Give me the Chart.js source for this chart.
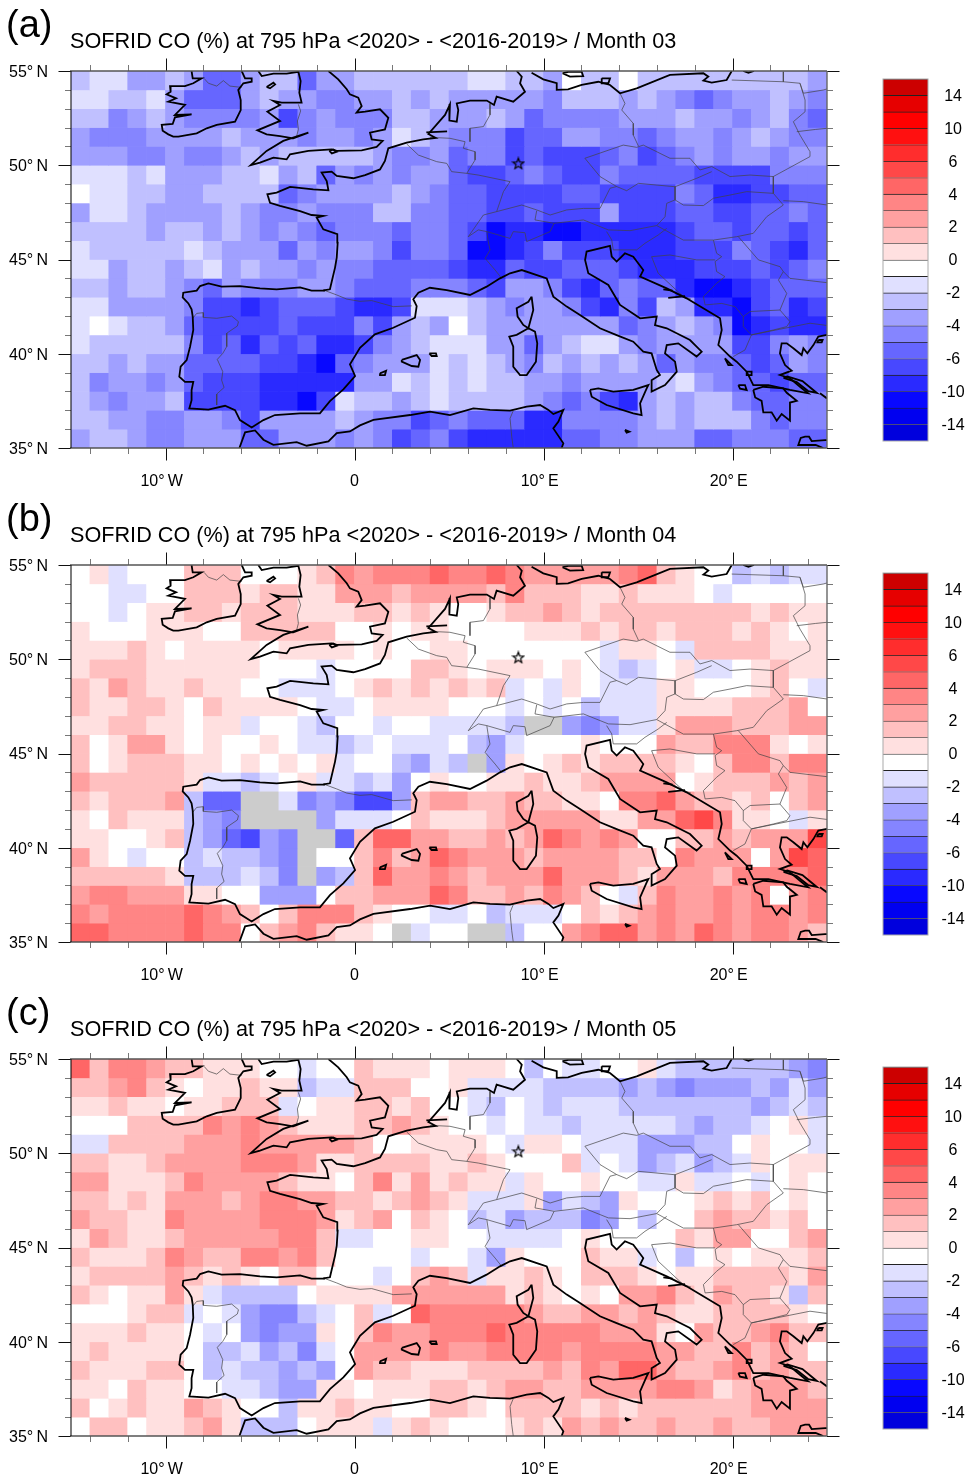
<!DOCTYPE html>
<html>
<head>
<meta charset="utf-8">
<title>SOFRID CO</title>
<script src="https://cdn.jsdelivr.net/npm/chart.js@4/dist/chart.umd.min.js"></script>
<style>
body { margin: 0; background: #fff; font-family: "Liberation Sans", Arial, sans-serif; color: #000; }
#page { position: relative; width: 975px; height: 1484px; overflow: hidden; }
canvas { position: absolute; }
.tag { position: absolute; left: 6px; font-size: 38px; line-height: 44px; }
.title { position: absolute; left: 70px; font-size: 21.65px; line-height: 26px; white-space: nowrap; }
</style>
</head>
<body>
<div id="page"></div>
<script>
// Grid cells, west edge of each column
const lons = [-15,-14,-13,-12,-11,-10,-9,-8,-7,-6,-5,-4,-3,-2,-1,0,1,2,3,4,5,6,7,8,9,10,11,12,13,14,15,16,17,18,19,20,21,22,23,24];
// South edge of each row, listed from the top of the map
const lats = [54,53,52,51,50,49,48,47,46,45,44,43,42,41,40,39,38,37,36,35];

// Axis ticks and labels
const lonTicks = [-10,0,10,20];
const lonLabels = ["10°\u2009W\u00a0\u2009","0","10°\u2009E\u00a0\u2009","20°\u2009E\u00a0\u2009"];
const latTicks = [35,40,45,50,55];
const latLabels = ["35°\u2009N","40°\u2009N","45°\u2009N","50°\u2009N","55°\u2009N"];
const lonMinor = [-14,-12,-8,-6,-4,-2,2,4,6,8,12,14,16,18,22,24];
const latMinor = [36,37,38,39,41,42,43,44,46,47,48,49,51,52,53,54];

// Colour classes, upper limit of each class; the last colour is for anything above 14
const levels = [-14,-12,-10,-8,-6,-5,-4,-3,-2,-1,0,1,2,3,4,5,6,8,10,12,14];
const colors = ["#0000dd","#0000f0","#0808ff","#2a2aff","#4848ff","#6666ff","#8585ff","#a0a0ff","#c0c0ff","#e0e0ff","#ffffff",
                "#ffe0e0","#ffc0c0","#ffa0a0","#ff8585","#ff6666","#ff4848","#ff2d2d","#ff1010","#ff0000","#e60000","#cc0000"];
const missingColor = "#cccccc";

// Month 03, percent difference per cell
const march = [
[-2,-1,-1,-3,-3,-2,-3,-5,-5,-3,-2,-2,-5,-3,-3,-2,-2,-2,-2,-2,-2,-1,-1,-2,-2,-3,0,-2,-2,0,-2,-2,-2,-2,-2,-2,-2,-2,-2,-3],
[-1,-1,-2,-2,-1,-3,-5,-5,-5,-3,-2,-3,-3,-4,-4,-3,-3,-2,-3,-2,-3,-3,-3,-3,-3,-4,-2,-2,-2,-3,-2,-3,-4,-5,-4,-3,-3,-2,-3,-4],
[-2,-2,-4,-3,-2,-3,-4,-4,-4,-4,-3,-7,-4,-3,-4,-4,-4,-2,-2,-3,-3,-3,-2,-3,-5,-4,-4,-4,-4,-3,-3,-3,-2,-3,-3,-4,-3,-2,-4,-5],
[-3,-4,-4,-4,-3,-3,-3,-3,-2,-3,-3,-3,-4,-3,-3,-4,-3,-1,-2,-3,-4,-4,-4,-7,-5,-5,-3,-3,-4,-4,-5,-4,-3,-3,-4,-3,-2,-3,-4,-4],
[-3,-3,-3,-4,-4,-3,-4,-4,-3,-2,-3,-2,-2,-2,-2,-2,-3,-4,-4,-3,-5,-4,-4,-7,-5,-7,-7,-7,-5,-4,-7,-5,-4,-3,-4,-3,-3,-4,-3,-3],
[-1,-1,-1,-2,-1,-3,-3,-3,-2,-2,-1,-3,-2,-5,-3,-4,-3,-4,-3,-3,-5,-7,-7,-5,-4,-5,-7,-7,-4,-5,-5,-5,-5,-7,-7,-7,-7,-4,-4,-4],
[0,-1,-1,-2,-2,-3,-3,-2,-2,-2,-2,-5,-4,-3,-3,-3,-3,-2,-3,-4,-5,-5,-7,-7,-7,-7,-5,-5,-7,-7,-7,-7,-4,-5,-9,-9,-7,-7,-5,-5],
[-3,-1,-1,-2,-3,-3,-3,-3,-2,-3,-4,-4,-3,-4,-4,-4,-2,-2,-4,-4,-5,-5,-7,-7,-5,-7,-7,-7,-3,-7,-7,-7,-5,-5,-7,-7,-5,-5,-4,-5],
[-2,-2,-2,-2,-3,-2,-2,-3,-2,-3,-4,-3,-4,-5,-4,-4,-4,-5,-4,-4,-5,-7,-11,-9,-9,-11,-11,-9,-9,-9,-9,-9,-7,-5,-5,-7,-5,-5,-7,-5],
[-1,-2,-2,-2,-2,-2,-1,-2,-3,-3,-3,-5,-3,-4,-3,-3,-4,-7,-4,-4,-5,-11,-11,-9,-7,-4,-7,-7,-7,-9,-9,-9,-7,-7,-7,-4,-5,-7,-9,-5],
[-1,-1,-3,-2,-2,-3,-2,-1,-3,-2,-3,-3,-4,-3,-4,-4,-5,-5,-5,-5,-7,-9,-9,-5,-7,-7,-5,-5,-5,-7,-9,-9,-9,-7,-7,-7,-5,-7,-5,-4],
[-2,-2,-3,-2,-2,-3,-4,-5,-3,-4,-4,-4,-3,-3,-4,-5,-5,-5,-4,-4,-4,-5,-7,-3,-3,-4,-7,-9,-5,-4,-5,-5,-9,-11,-11,-9,-7,-5,-5,-5],
[-1,-1,-3,-3,-3,-3,-4,-7,-7,-9,-7,-5,-5,-5,-7,-9,-9,-7,-1,-1,-1,-2,-3,-4,-3,-3,-4,-7,-9,-4,-7,-2,-3,-9,-9,-11,-7,-5,-9,-7],
[-1,0,-1,-2,-2,-3,-5,-7,-7,-7,-7,-5,-7,-7,-7,-4,-7,-3,-2,-3,0,-2,-3,-3,-3,-3,-3,-3,-3,-5,-4,-3,-2,-3,-4,-11,-9,-7,-9,-9],
[-1,-2,-2,-2,-2,-2,-4,-7,-5,-9,-5,-7,-5,-9,-9,-7,-4,-3,-2,-1,-1,-1,-3,-3,-5,-3,-2,-1,-1,-3,-4,-3,-3,-3,-3,-7,-7,-4,-3,-4],
[-2,-2,-3,-2,-3,-3,-5,-5,-5,-5,-7,-7,-9,-11,-5,-4,-3,-3,-3,-1,-2,-1,-2,-3,-4,-2,-3,-2,-3,-2,-3,-5,-3,-4,-4,-5,-7,-5,-3,-4],
[-2,-4,-3,-3,-4,-3,-5,-7,-7,-7,-9,-9,-9,-9,-9,-3,-3,-1,-2,-1,-2,-1,-2,-2,-3,-3,-4,-3,-3,-3,-3,-2,-1,-3,-4,-5,-5,-7,-5,-5],
[-2,-3,-4,-3,-3,-2,-7,-7,-7,-7,-9,-9,-11,-7,-1,-2,-2,-3,-2,-1,-2,-2,-2,-2,-3,-4,-5,-4,-7,-9,-3,-2,-3,-2,-2,-4,-5,-5,-4,-4],
[-2,-2,-3,-3,-4,-4,-3,-3,-4,-7,-3,-3,-3,-3,-2,-3,-4,-4,-7,-5,-4,-5,-5,-5,-9,-9,-4,-4,-4,-4,-3,-2,-3,-2,-2,-2,-4,-5,-4,-4],
[-3,-2,-2,-3,-4,-4,-3,-3,-3,-5,-5,-3,-3,-3,-4,-3,-4,-7,-5,-4,-7,-9,-9,-9,-9,-9,-5,-5,-4,-4,-3,-3,-3,-5,-5,-4,-4,-4,-5,-5]
];

// Month 04
const april = [
[0,1,-1,0,0,0,2,2,2,0,0,0,1,2,4,3,4,4,4,5,4,4,5,4,3,3,3,3,3,4,5,2,1,0,0,-2,-1,-2,-1,-1],
[0,0,-1,-1,0,0,2,2,2,1,2,2,1,1,3,3,3,2,3,3,3,3,2,4,2,2,2,1,1,2,1,1,1,0,-1,0,0,0,0,0],
[0,0,-1,0,1,1,2,2,1,2,2,2,1,1,1,2,2,1,2,1,0,0,1,2,2,3,2,1,2,2,2,2,2,2,2,2,1,2,1,1],
[1,0,0,0,1,1,1,0,0,2,2,2,2,2,0,0,1,0,1,1,0,0,0,0,1,1,1,2,1,2,2,1,2,2,2,1,2,1,0,1],
[1,1,1,2,1,0,1,1,1,1,0,1,1,1,1,0,1,0,0,1,1,0,0,0,0,0,0,0,-1,1,1,0,-1,2,2,2,2,1,1,1],
[1,2,2,2,1,1,1,1,1,1,0,0,0,-1,0,0,0,0,2,2,1,0,1,1,1,0,1,0,-1,-2,-1,0,1,-1,-1,0,1,2,1,1],
[2,1,3,2,1,1,2,1,1,0,0,-1,-1,-1,0,1,2,1,2,1,2,1,2,-1,0,-1,1,0,-1,-1,-1,1,1,0,0,0,1,2,0,-1],
[2,1,1,2,2,1,0,2,1,1,1,1,0,-1,-1,0,1,1,1,1,0,0,0,-1,0,-1,0,-2,-1,-1,-1,1,1,1,1,2,2,2,3,0],
[1,1,2,2,1,1,0,1,1,-1,0,0,-1,-2,0,0,-1,0,0,-1,-1,-1,-1,-2,null,null,-3,-4,-3,-1,-1,1,3,3,3,2,2,2,3,3],
[2,0,1,3,3,1,0,1,0,0,1,0,-1,-1,-2,-1,0,-1,-1,-1,0,-2,-3,-1,0,0,0,1,0,0,0,3,2,2,4,4,4,1,0,1],
[2,0,1,2,2,2,1,1,0,1,0,1,0,1,-1,0,0,-2,-3,-1,-2,null,-3,1,0,1,2,1,2,2,2,2,1,0,2,4,4,2,4,4],
[3,2,2,2,2,2,1,-1,-1,-2,-1,0,1,-1,-1,-2,-1,-3,0,1,0,0,1,1,2,1,1,2,3,3,3,3,0,1,2,2,2,3,2,3],
[2,1,2,2,2,3,-2,-5,-5,null,null,-1,-4,-3,-4,-7,-7,-3,2,3,3,2,2,3,2,2,1,1,0,4,4,5,3,2,2,1,2,0,2,3],
[1,0,2,1,1,1,-2,-3,-4,null,null,null,null,-3,-1,-1,-1,0,2,1,1,1,2,3,3,3,3,3,1,1,3,3,5,6,4,1,1,0,-1,1],
[1,1,0,0,1,2,-2,-3,-5,-7,-3,-4,null,null,-5,2,5,5,3,3,2,2,3,2,3,5,4,3,4,3,0,0,2,2,3,2,3,3,3,6],
[3,1,0,-1,0,0,-2,-1,-2,-2,-3,-4,null,0,0,2,4,2,3,5,4,3,3,3,2,3,3,3,3,2,2,0,4,3,3,3,0,3,6,5],
[2,2,2,2,2,1,-2,-2,-2,-1,-2,-4,null,-3,-2,2,5,3,3,4,3,2,3,3,3,5,3,3,3,2,1,3,3,3,2,4,4,4,4,5],
[3,4,4,3,3,3,1,1,0,0,-3,-3,-3,0,2,2,3,3,3,5,4,2,2,3,2,4,3,2,0,-1,2,4,3,3,4,3,4,0,3,4],
[4,3,4,4,4,4,5,4,3,2,0,2,4,4,4,2,1,0,0,-1,-1,0,-2,-1,-1,-1,0,2,1,2,3,4,3,3,4,3,4,4,3,4],
[5,5,4,4,4,4,5,4,4,0,2,3,4,2,1,1,0,null,-1,0,0,null,null,-2,0,0,3,4,5,5,3,4,3,5,4,3,4,4,3,2]
];

// Month 05
const may = [
[5,2,4,4,3,2,2,1,1,1,0,0,-1,0,0,2,1,1,1,0,1,1,1,0,-2,0,-1,-1,0,0,1,-1,-2,-2,-2,-2,-2,-2,-3,-4],
[2,2,3,4,2,1,0,1,1,2,1,1,-2,-1,-1,2,2,2,0,0,1,-1,-1,-1,-1,-2,-2,-2,-2,-3,-2,-3,-4,-3,-3,-3,-2,-3,-1,-3],
[1,1,2,1,1,0,1,1,2,2,2,-1,0,1,1,2,2,1,2,0,0,-1,-2,0,-1,-2,-1,-1,-1,-2,-2,-2,-2,-2,-2,-2,-3,-2,-1,-2],
[0,0,0,2,2,2,2,4,3,4,3,2,1,1,1,2,2,3,2,1,0,0,-1,0,-1,-1,-2,-1,-1,-1,-1,-1,-2,-3,-2,-2,-1,0,1,-1],
[-1,-1,2,2,2,2,3,3,3,4,3,3,3,3,3,2,0,0,1,1,1,1,0,-1,1,1,0,-1,-1,-1,-3,-3,-3,-2,-2,0,1,0,0,-1],
[2,2,1,1,2,3,3,3,3,4,4,4,3,1,1,2,2,2,2,1,1,2,1,0,0,0,2,-1,0,-1,-3,-2,-1,-3,-2,-1,1,0,1,1],
[3,3,1,1,1,2,4,3,3,3,3,2,1,1,0,2,4,1,3,1,2,1,1,-1,1,0,0,1,0,0,-1,-1,1,-1,-1,0,-1,0,1,0],
[2,2,1,2,1,3,3,3,2,3,4,4,3,3,2,2,1,2,3,2,1,-1,-1,-1,1,-3,-1,-2,-3,1,0,0,0,1,2,1,2,0,1,0],
[3,2,2,1,1,4,3,3,3,3,4,4,4,3,1,2,3,0,2,1,0,-2,-1,-3,-2,-2,-2,-4,-3,0,-2,0,0,2,3,2,2,1,2,0],
[1,3,2,1,1,2,3,3,3,3,3,4,4,2,-1,-1,0,0,1,1,0,0,-1,-1,-1,-1,0,1,0,0,0,0,2,1,3,3,0,0,2,3],
[2,1,1,1,2,4,3,2,2,4,4,3,4,2,0,0,0,0,-1,0,0,-1,-3,1,0,0,0,2,1,1,-1,0,-2,0,1,0,1,1,1,2],
[1,2,2,2,2,3,2,1,2,1,0,2,2,0,0,0,-1,0,2,3,2,-1,1,1,2,1,0,2,2,2,1,0,1,1,2,2,2,2,1,3],
[2,1,0,1,1,3,1,-1,-2,-2,-2,-2,0,1,1,1,1,3,3,3,3,3,3,1,2,1,0,1,0,3,3,4,2,1,3,2,2,1,-2,2],
[0,0,0,1,2,2,-1,0,-1,-3,-4,-4,-2,-1,0,2,-1,0,5,4,4,4,4,4,3,2,2,3,3,2,3,2,1,1,2,2,2,2,1,0],
[1,1,1,2,1,1,0,-1,0,-3,-4,-3,-3,1,0,2,4,3,3,4,4,4,5,4,4,4,4,4,3,3,3,1,0,3,2,2,3,4,2,2],
[1,2,1,1,1,1,0,-2,-2,-1,-3,-2,-4,-1,0,3,3,3,3,4,3,3,4,4,4,4,3,4,4,4,4,3,3,2,2,4,2,3,2,0],
[2,1,1,1,2,2,0,-2,-1,-2,-2,-3,-2,-3,0,3,2,2,1,1,1,2,2,2,2,3,2,4,3,5,5,3,2,2,3,4,2,3,2,2],
[1,1,0,2,1,1,0,0,-1,-1,-2,-3,-3,1,1,0,1,1,1,2,2,1,2,3,3,2,2,3,3,3,3,4,4,3,1,2,3,3,3,2],
[2,0,1,2,1,1,3,2,1,0,0,-2,1,1,2,1,1,0,0,2,2,1,0,2,2,2,2,1,2,1,2,2,2,2,2,2,3,3,3,3],
[0,2,2,0,1,1,2,3,1,-2,-2,-2,0,1,1,1,-1,1,2,1,0,0,0,1,2,1,3,2,3,2,2,3,2,2,3,2,2,3,3,3]
];

// Coastlines, [lon, lat]
const ireland = [[-8.62,55],[-8.56,54.61],[-8.09,54.61],[-8.53,54.35],[-8.97,54.2],[-9.76,54.2],[-9.73,53.9],[-9.94,53.76],[-9.44,53.55],[-9.85,53.37],[-8.97,53.2],[-9.5,52.67],[-8.62,52.7],[-9.5,52.54],[-9.62,52.19],[-10.2,52.14],[-10.15,51.83],[-9.85,51.64],[-9.59,51.52],[-9.32,51.52],[-8.35,51.69],[-7.82,51.96],[-7.29,52.14],[-6.32,52.31],[-6.02,52.93],[-6.02,53.46],[-6.15,53.99],[-5.88,54.35],[-5.44,54.43],[-5.44,54.61],[-5.79,54.61],[-5.97,55]];
const britain = [[-5.09,55],[-4.91,54.73],[-4.29,54.86],[-3.59,54.86],[-2.97,54.96],[-2.85,54.47],[-2.92,53.85],[-2.8,53.32],[-3.85,53.32],[-4.29,53.41],[-3.94,53.2],[-4.61,52.84],[-3.94,52.35],[-5.14,51.85],[-4.65,51.64],[-3.94,51.55],[-3.24,51.43],[-2.44,51.73],[-3.77,51.29],[-4.65,50.76],[-5.49,50.01],[-5,50.14],[-4.29,50.4],[-3.59,50.31],[-3.41,50.58],[-2.44,50.76],[-1.21,50.84],[-0.94,50.76],[0.38,50.79],[1.17,50.97],[1.49,51.29],[0.91,51.37],[0.82,51.73],[1.61,51.9],[1.79,52.52],[1.35,52.97],[0.56,52.84],[0.11,52.79],[0.38,53.14],[0.2,53.59],[-0.24,53.76],[-0.41,54.03],[-0.86,54.56],[-1.38,55]];
const isleOfMan = [[-4.65,54.15],[-4.29,54.38],[-4.2,54.29],[-4.47,54.08],[-4.65,54.15]];
const isleOfWight = [[-1.33,50.76],[-1.12,50.84],[-0.94,50.72],[-1.2,50.63],[-1.33,50.76]];
const franceAtlantic = [[-1.65,43.36],[-1.3,43.42],[-1.03,44.57],[-0.94,45.1],[-0.89,45.89],[-0.91,46.34],[-1.65,46.6],[-2,47.22],[-1.65,47.31],[-2.27,47.36],[-2.88,47.57],[-3.94,47.84],[-4.47,48.01],[-4.61,48.46],[-4.12,48.55],[-3.41,48.85],[-2.18,48.72],[-1.38,48.67],[-1.47,49.16],[-1.74,49.61],[-1.21,49.66],[-0.94,49.43],[-0.06,49.31],[0.56,49.48],[1.35,49.78],[1.61,50.23],[1.79,50.9],[2.76,51.2],[3.64,51.37],[4.3,51.45],[3.91,51.66],[4.79,52.67],[5.05,53.23],[5.02,52.37],[5.41,52.31],[5.49,52.93],[5.41,53.28],[6.11,53.43],[7,53.43],[7.38,53.2],[7.52,53.64],[8.4,53.37],[9.02,53.9],[8.76,54.35],[8.85,54.7],[8.58,55]];
const balticCoast = [[9.37,54.91],[9.99,54.56],[10.7,54.35],[10.7,54],[11.3,54.03],[12.02,54.26],[12.9,54.43],[13.52,54.26],[14.05,53.82],[14.93,54.08],[16.69,54.79],[18.46,54.88],[18.72,54.7],[18.46,54.49],[18.9,54.38],[19.69,54.52],[19.96,55]];
const balticIsles = [[11,54.88],[11.4,54.7],[12.1,54.73],[12.02,54.96],[11.31,54.96],[11,54.88]];
const rugen = [[13.08,54.61],[13.52,54.61],[13.43,54.35],[13.08,54.35],[13.08,54.61]];
const zeeland = [[3.8,51.74],[4.9,51.8]];
const iberia = [[-1.56,43.35],[-2.27,43.35],[-2.88,43.52],[-4.12,43.41],[-5,43.47],[-6.06,43.59],[-7.03,43.56],[-7.73,43.73],[-8.17,43.59],[-8.35,43.35],[-9.06,43.24],[-9.09,42.99],[-8.79,42.67],[-8.62,42.36],[-8.56,41.97],[-8.53,41.26],[-8.7,40.37],[-8.88,39.66],[-9.2,39.31],[-9.27,38.78],[-8.97,38.51],[-8.53,38.51],[-8.62,38.07],[-8.62,37.54],[-8.74,37.1],[-7.73,37.04],[-6.85,37.24],[-6.32,37.01],[-6.06,36.48],[-5.44,36.09],[-4.82,36.48],[-4.21,36.75],[-2.88,36.84],[-1.83,36.84],[-1.3,37.49],[-0.59,38.11],[0.03,38.82],[-0.24,39.44],[0.29,40.32],[1.08,41.03],[2.05,41.38],[3.2,41.91],[3.29,42.53],[3.11,42.89],[3.38,43.24],[3.99,43.5],[4.88,43.38],[6.11,43.12],[6.99,43.56],[7.7,44],[8.23,44.27],[8.85,44.44],[10.17,44],[10.52,43.03],[11.23,42.5],[11.93,42.06],[12.99,41.35],[13.87,40.99],[14.75,40.64],[15.28,40.11],[15.72,40.02],[15.99,39.14],[16.16,38.87],[15.72,38.6],[15.72,37.99],[16.43,38.34],[17.05,39.05],[16.96,39.58],[16.43,40.02],[16.52,40.46],[17.13,40.55],[18.1,39.85],[18.37,40.11],[17.75,40.73],[16.52,41.35],[15.9,41.52],[15.99,41.97],[15.11,41.88],[14.05,42.59],[13.43,43.65],[12.37,44.27],[12.2,44.97],[12.28,45.42],[13.52,45.72],[13.61,45.15],[13.87,44.89],[14.31,45.33],[14.75,45.15],[15.28,44.44],[15.11,44.09],[16.52,43.47],[17.57,42.94],[19.34,41.88],[19.43,41.26],[19.25,40.46],[19.87,39.85],[20.22,39.58],[20.75,39.05],[21.1,38.34],[21.9,38.34],[23.04,38.08],[24,37.9],[23.57,38.25],[23.04,38.7],[22.51,38.87],[23.13,39.1],[22.78,39.4],[22.51,40.02],[22.6,40.55],[22.87,40.55],[23.22,40.29],[23.66,39.93],[23.75,40.29],[23.96,40.02],[24.28,40.46],[24.54,40.91],[25,41]];
const northAfrica = [[-6.09,35],[-5.79,35.83],[-5.26,35.93],[-4.82,35.44],[-4.29,35.17],[-3.06,35.31],[-2.53,35.12],[-1.38,35.35],[-0.94,35.79],[-0.24,35.88],[0.29,36.2],[1,36.49],[2.94,36.75],[4,36.93],[5.05,36.75],[6.29,37.1],[7.17,37.02],[8.23,36.98],[9.11,37.19],[9.82,37.28],[10.26,37.02],[10.52,36.8],[11.05,37.02],[10.79,36.4],[10.52,36.04],[11.05,35.25],[10.96,35]];
const peloponnese = [[21.1,38.08],[21.63,38.25],[22.69,38.16],[22.87,37.93],[23.4,37.5],[23.04,37.41],[23.04,36.45],[22.6,36.8],[22.34,36.45],[22.07,36.89],[21.63,36.89],[21.54,37.5],[21.2,37.68],[21.1,38.08]];
const euboea = [[22.7,38.72],[23.4,38.5],[24,38.02],[24.46,37.92],[23.7,38.55],[22.9,38.8],[22.7,38.72]];
const corfu = [[19.6,39.76],[19.96,39.4],[19.78,39.4],[19.6,39.76]];
const kefalonia = [[20.31,38.34],[20.66,38.34],[20.75,38.08],[20.4,38.15],[20.31,38.34]];
const lefkada = [[20.75,39.05],[21.01,39.05],[21.01,38.87],[20.75,38.87],[20.75,39.05]];
const thasos = [[24.54,40.73],[24.77,40.73],[24.72,40.6],[24.49,40.6],[24.54,40.73]];
const andros = [[24.63,37.9],[25,37.63]];
const crete = [[24.8,35],[24.4,35.16],[23.48,35.16],[23.61,35.53],[23.84,35.6],[24.05,35.6],[24.19,35.37],[24.9,35.42],[25,35.42]];
const sicily = [[12.46,38.08],[12.55,37.72],[13.34,37.28],[14.75,36.84],[15.19,36.75],[15.11,37.37],[15.46,38.16],[15.55,38.34],[14.75,38.08],[13.69,37.99],[12.9,38.16],[12.46,38.08]];
const corsica = [[9.37,43.03],[9.46,42.32],[9.2,41.35],[8.93,41.53],[8.63,41.97],[8.58,42.41],[9.2,42.76],[9.37,43.03]];
const sardinia = [[9.2,41.35],[9.55,41.17],[9.67,40.55],[9.6,39.58],[9.11,38.87],[8.76,38.87],[8.4,39.31],[8.4,40.38],[8.19,40.91],[8.58,41],[9.2,41.35]];
const mallorca = [[2.5,39.67],[3.29,39.93],[3.47,39.67],[3.38,39.31],[3.03,39.35],[2.5,39.58],[2.5,39.67]];
const menorca = [[3.96,40.02],[4.31,40.02],[4.35,39.88],[4.08,39.88],[3.96,40.02]];
const ibiza = [[1.35,38.96],[1.67,39.1],[1.61,38.87],[1.39,38.87],[1.35,38.96]];
const malta = [[14.31,35.96],[14.54,35.87],[14.4,35.82],[14.31,35.96]];
const hvar = [[16.34,43.42],[16.83,43.35]];
const peljesac = [[16.6,42.96],[17.49,43.06]];
const sweden = [[20.57,55],[20.84,54.91],[21.14,55]];
const coastlines = [ireland,britain,isleOfMan,isleOfWight,franceAtlantic,balticCoast,balticIsles,rugen,zeeland,iberia,northAfrica,peloponnese,euboea,corfu,kefalonia,lefkada,thasos,andros,crete,sicily,corsica,sardinia,mallorca,menorca,ibiza,malta,hvar,peljesac,sweden];

// Country borders, thin lines
const borders = [
[[-7.96,54.61],[-7.73,54.35],[-7.29,54.2],[-6.94,54.49],[-6.59,54.2],[-5.97,54.13]],
[[-2.97,53.23],[-2.85,52.88],[-3.02,52.35],[-2.97,51.9],[-3.06,51.55]],
[[2.76,51.13],[3.38,50.54],[4.35,50.19],[4.88,50.1],[5.14,49.66],[5.94,49.57],[6.55,49.48],[8.23,49.13],[7.88,48.6],[7.52,47.54]],
[[7.52,47.54],[6.82,47.36],[6.02,46.21],[6.55,46.57],[7,46.48],[7.08,45.95],[7.17,45.5],[6.91,45.06],[7.44,44.44],[7.79,44]],
[[4,51.48],[5.05,51.43],[5.85,51.25],[5.76,50.9],[6.38,50.72],[6.38,50.28],[5.94,49.57]],
[[7.17,53.28],[7.17,52.67],[6.82,52.05],[6.11,51.96],[6.11,51.25]],
[[7.52,47.54],[8.85,47.89],[9.64,47.63],[10.35,47.36],[11.23,47.63],[12.11,47.71],[12.99,47.71]],
[[7,46.48],[8.23,46.12],[8.4,46.48],[9.02,46.42],[9.11,45.95],[10.35,46.48],[10.56,46.92],[9.55,47.1],[9.64,47.59]],
[[10.56,46.92],[12.11,47.1],[13.43,46.57],[14.58,46.53],[15.99,46.8]],
[[12.99,47.71],[13.52,48.78],[13.87,48.87],[14.4,48.65],[15.02,49.04],[16.96,48.86],[16.96,48.16],[16.52,47.98],[16.43,47.27],[15.99,46.8]],
[[13.87,48.87],[12.99,49.4],[12.19,50.37],[14.22,51.07],[14.93,50.95],[15.28,51.07],[16.69,50.37],[17.75,50.37],[18.28,49.75],[18.9,49.93],[19.87,49.4],[20.93,49.48],[22.16,49.4]],
[[16.96,48.86],[18.11,49.31],[18.9,49.66]],
[[16.96,48.16],[17.4,47.89],[18.46,47.86],[18.99,48.25],[19.87,48.42],[20.75,48.6],[22.16,48.51]],
[[22.16,49.4],[22.16,48.51],[22.69,47.89],[21.81,47.27],[21.1,46.39],[20.22,46.21]],
[[22.69,48.12],[23.75,48.07],[25,47.89]],
[[22.16,49.4],[24.1,50.46],[24.1,50.72],[23.57,51.6],[23.22,52.31],[23.84,52.84],[23.84,53.46],[23.57,54.35]],
[[19.96,54.52],[22.69,54.43],[23.57,54.35],[23.75,53.82],[24.8,53.99],[25,54.05]],
[[22.69,54.96],[22.69,54.43]],
[[23.4,51.78],[24.4,51.9],[25,51.96]],
[[14.05,53.82],[14.31,53.28],[14.14,52.93],[14.75,52.22],[14.75,51.6],[15.02,51.02]],
[[15.99,46.8],[17.4,46.03],[18.99,46.03],[20.22,46.21]],
[[20.31,46.21],[21.37,44.98],[22.51,44.62],[22.69,44.36],[23.04,44],[25,43.77]],
[[22.69,44.36],[22.43,43.91],[22.87,43.2],[22.51,42.32]],
[[20.57,41.97],[20.93,42.24],[22.51,42.32],[23.04,41.7],[22.87,41.44],[22.16,41.26],[21,41],[20.57,41.44],[20.57,41.97]],
[[21,41],[24.1,41.62],[25,41.5]],
[[19.43,42.67],[20.13,42.5],[20.57,41.97]],
[[21,41],[20.66,40.2],[20.04,39.85]],
[[18.99,46.03],[19.16,45.33],[19.43,45.15],[19.08,44.89],[19.16,44.36],[19.6,44.09],[19.16,43.74],[18.46,43.03],[18.55,42.59],[19.43,42.67]],
[[15.72,45.15],[16.69,45.24],[18.11,44.98],[19.08,44.98]],
[[15.72,45.15],[16.07,44.27],[17.4,43.03],[17.8,42.9]],
[[13.34,46.48],[13.61,46.04],[13.69,45.51],[14.93,45.51],[15.37,45.86],[16.07,46.3],[16.52,46.65]],
[[-8.56,41.88],[-8.35,42.14],[-8,42.18],[-8,41.93],[-7.29,41.88],[-6.5,42],[-6.14,41.7],[-6.2,41.47],[-6.76,41.09],[-6.76,40.38],[-6.97,40.02],[-7.26,39.7],[-6.97,39.05],[-7.03,38.6],[-6.9,38.21],[-7.29,37.86],[-7.29,37.28]],
[[-1.56,43.35],[-0.94,43.12],[-0.41,42.9],[0.29,42.78],[0.91,42.82],[2.05,42.5],[3.03,42.54]],
[[8.4,36.98],[8.23,36.57],[8.32,35.6],[8.4,35]]
];

const stationMark = [[8.67,50.1]];

const panels = [
  { tag: "(a)", month: "03", rows: march, top: 0 },
  { tag: "(b)", month: "04", rows: april, top: 494 },
  { tag: "(c)", month: "05", rows: may, top: 988 }
];

function colorOf(v) {
  if (v === null) return missingColor;
  const i = levels.findIndex(top => v <= top);
  return i < 0 ? colors[colors.length - 1] : colors[i];
}

// five pointed outline for the station
function starImage() {
  const c = document.createElement("canvas");
  c.width = 14;
  c.height = 14;
  const g = c.getContext("2d");
  g.beginPath();
  for (let i = 0; i < 10; i++) {
    const r = i % 2 ? 2.4 : 5.8;
    const a = -Math.PI / 2 + i * Math.PI / 5;
    g[i ? "lineTo" : "moveTo"](7 + r * Math.cos(a), 7.5 + r * Math.sin(a));
  }
  g.closePath();
  g.lineWidth = 1.2;
  g.strokeStyle = "#000";
  g.stroke();
  return c;
}

// ticks point outwards on all four sides of the map
const mapFrame = {
  id: "mapFrame",
  afterDatasetsDraw(chart) {
    const { ctx, chartArea: a, scales } = chart;
    const x = scales.x, y = scales.y;
    ctx.save();
    ctx.lineWidth = 1;
    const seg = (x0, y0, x1, y1, col) => {
      ctx.strokeStyle = col;
      ctx.beginPath();
      ctx.moveTo(x0, y0);
      ctx.lineTo(x1, y1);
      ctx.stroke();
    };
    lonMinor.forEach(v => {
      const p = Math.round(x.getPixelForValue(v)) + 0.5;
      seg(p, a.top, p, a.top - 6, "#777");
      seg(p, a.bottom, p, a.bottom + 6, "#777");
    });
    latMinor.forEach(v => {
      const p = Math.round(y.getPixelForValue(v)) + 0.5;
      seg(a.left, p, a.left - 6, p, "#777");
      seg(a.right, p, a.right + 6, p, "#777");
    });
    lonTicks.forEach(v => {
      const p = Math.round(x.getPixelForValue(v)) + 0.5;
      seg(p, a.top, p, a.top - 12.5, "#111");
      seg(p, a.bottom, p, a.bottom + 12.5, "#111");
    });
    latTicks.forEach(v => {
      const p = Math.round(y.getPixelForValue(v)) + 0.5;
      seg(a.left, p, a.left - 12.5, p, "#111");
      seg(a.right, p, a.right + 12.5, p, "#111");
    });
    ctx.lineWidth = 1.4;
    seg(a.left - 1, a.top, a.right, a.top, "#555");
    seg(a.left - 1, a.bottom, a.right, a.bottom, "#555");
    seg(a.right, a.top, a.right, a.bottom, "#666");
    ctx.lineWidth = 1.1;
    seg(a.left, a.top, a.left, a.bottom, "#111");
    ctx.restore();
  }
};

const barFrame = {
  id: "barFrame",
  afterDatasetsDraw(chart) {
    const { ctx, chartArea: a } = chart;
    ctx.save();
    ctx.lineWidth = 1;
    ctx.strokeStyle = "#aaa";
    ctx.strokeRect(a.left, a.top, a.right - a.left, a.bottom - a.top);
    ctx.restore();
  }
};

function addCanvas(page, left, top, w, h) {
  const c = document.createElement("canvas");
  c.width = w;
  c.height = h;
  c.style.left = left + "px";
  c.style.top = top + "px";
  c.style.width = w + "px";
  c.style.height = h + "px";
  page.appendChild(c);
  return c;
}

function addText(page, cls, top, text) {
  const d = document.createElement("div");
  d.className = cls;
  d.style.top = top + "px";
  d.textContent = text;
  page.appendChild(d);
}

function drawMap(canvas, rows) {
  const star = starImage();
  const cellSets = rows.map((row, r) => ({
    type: "bar",
    xAxisID: "cell",
    yAxisID: "y",
    grouped: false,
    order: 5,
    barPercentage: 1,
    categoryPercentage: 1,
    borderWidth: 0,
    data: row.map(() => [lats[r], lats[r] + 1]),
    backgroundColor: row.map(colorOf)
  }));
  const line = (pts, width, color, order) => ({
    type: "line",
    xAxisID: "x",
    yAxisID: "y",
    order,
    data: pts,
    borderColor: color,
    borderWidth: width,
    pointRadius: 0,
    tension: 0,
    fill: false
  });
  const borderSets = borders.map(b => line(b, 0.7, "#444", 3));
  const coastSets = coastlines.map(c => line(c, 1.8, "#000", 2));
  const starSet = {
    type: "line",
    xAxisID: "x",
    yAxisID: "y",
    order: 1,
    data: stationMark,
    showLine: false,
    pointStyle: star,
    pointRadius: 6
  };
  new Chart(canvas, {
    type: "bar",
    data: { labels: lons, datasets: [...cellSets, ...borderSets, ...coastSets, starSet] },
    plugins: [mapFrame],
    options: {
      responsive: false,
      animation: false,
      events: [],
      layout: { padding: { top: 71, right: 148 } },
      plugins: { legend: { display: false }, tooltip: { enabled: false } },
      scales: {
        cell: { axis: "x", type: "category", display: false, offset: true, grid: { display: false } },
        x: {
          type: "linear",
          position: "bottom",
          offset: false,
          min: -15,
          max: 25,
          grid: { display: false, drawTicks: false },
          border: { display: false },
          afterBuildTicks(s) { s.ticks = lonTicks.map(v => ({ value: v })); },
          afterFit(s) { s.height = 46; },
          ticks: {
            autoSkip: false,
            maxRotation: 0,
            padding: 24,
            color: "#000",
            font: { family: "Liberation Sans", size: 16 },
            callback: (v, i) => lonLabels[i]
          }
        },
        y: {
          type: "linear",
          min: 35,
          max: 55,
          grid: { display: false, drawTicks: false },
          border: { display: false },
          afterBuildTicks(s) { s.ticks = latTicks.map(v => ({ value: v })); },
          afterFit(s) { s.width = 71; },
          ticks: {
            autoSkip: false,
            padding: 23,
            labelOffset: 1.5,
            color: "#000",
            font: { family: "Liberation Sans", size: 16 },
            callback: (v, i) => latLabels[i]
          }
        }
      }
    }
  });
}

function drawColorbar(canvas) {
  const boxes = colors.map((c, i) => ({
    data: [[i, i + 1]],
    backgroundColor: c,
    borderColor: "#222",
    borderWidth: { top: 0.8, bottom: 0, left: 0, right: 0 },
    borderSkipped: false,
    grouped: false,
    barPercentage: 1,
    categoryPercentage: 1
  }));
  new Chart(canvas, {
    type: "bar",
    data: { labels: ["levels"], datasets: boxes },
    plugins: [barFrame],
    options: {
      responsive: false,
      animation: false,
      events: [],
      layout: { padding: { left: 33, top: 79, bottom: 53 } },
      plugins: { legend: { display: false }, tooltip: { enabled: false } },
      scales: {
        x: { display: false, offset: true },
        y: {
          type: "linear",
          position: "right",
          min: 0,
          max: 22,
          grid: { display: false, drawTicks: false },
          border: { display: false },
          afterBuildTicks(s) { s.ticks = levels.map((v, i) => ({ value: i + 1 })).filter((t, i) => i % 2 === 0); },
          afterFit(s) { s.width = 47; },
          ticks: {
            autoSkip: false,
            padding: 13.5,
            labelOffset: 1,
            crossAlign: "center",
            color: "#000",
            font: { family: "Liberation Sans", size: 16 },
            callback: v => String(levels[v - 1])
          }
        }
      }
    }
  });
}

window.onload = () => {
  const page = document.getElementById("page");
  panels.forEach(p => {
    drawMap(addCanvas(page, 0, p.top, 975, 494), p.rows);
    drawColorbar(addCanvas(page, 850, p.top, 125, 494));
    addText(page, "tag", p.top + 2, p.tag);
    addText(page, "title", p.top + 27.5, "SOFRID CO (%) at 795 hPa <2020> - <2016-2019> / Month " + p.month);
  });
};
</script>
</body>
</html>
